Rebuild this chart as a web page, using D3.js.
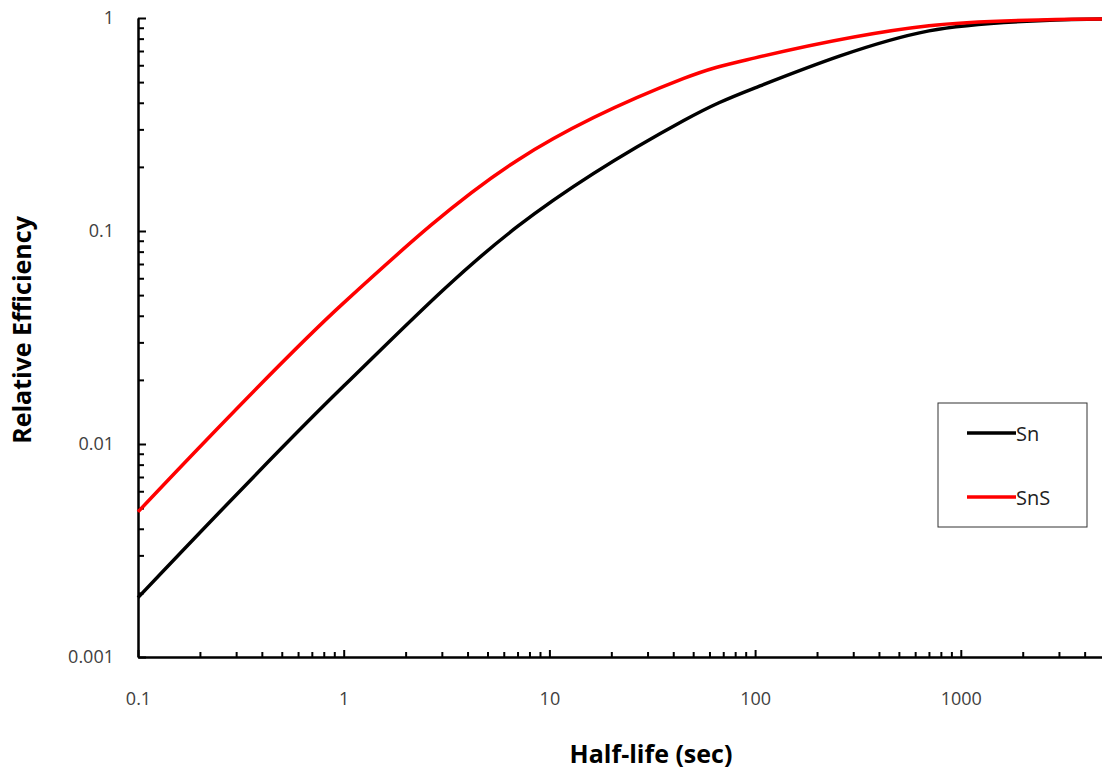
<!DOCTYPE html>
<html>
<head>
<meta charset="utf-8">
<script src="https://cdn.jsdelivr.net/npm/d3@7"></script>
<style>
  body { margin: 0; background: #fff; }
  svg { display: block; font-family: "Open Sans", sans-serif; }
  .axis path, .axis line { stroke: #000; stroke-width: 2px; }
</style>
</head>
<body>
<div id="chart"></div>
<script>
// half-life values (sec) and relative efficiencies
let halfLife = [0.1, 1, 7, 45, 100, 700, 5000];
let snValues = [0.0019, 0.0187, 0.105, 0.33, 0.47, 0.87, 0.99];
let snsValues = [0.0048, 0.046, 0.215, 0.52, 0.65, 0.92, 0.99];

let seriesNames = ["Sn", "SnS"];
let seriesColors = ["#000000", "#ff0000"];

let xMajorTicks = [0.1, 1, 10, 100, 1000];
let yMajorTicks = [0.001, 0.01, 0.1, 1];

let w = 1102, h = 774;
let plotLeft = 138, plotTop = 18, plotBottom = 657;

let xScale = d3.scaleLog()
    .domain([0.1, 5000])
    .range([plotLeft, plotLeft + 205.7 * Math.log10(50000)]);

let yScale = d3.scaleLog()
    .domain([0.001, 1])
    .range([plotBottom, plotTop]);

// minor ticks: 2..9 in every decade
function minorTicks(lo, hi) {
    let out = [];
    for (let d = lo; d < hi; d *= 10) {
        for (let k = 2; k <= 9; k++) out.push(d * k);
    }
    return out;
}
let xMinor = minorTicks(0.1, 10000).filter(function (v) { return v <= 5000; });
let yMinor = minorTicks(0.001, 1);

let svg = d3.select("#chart")
    .append("svg")
    .attr("width", w)
    .attr("height", h);

// x axis, ticks pointing up into the plot
svg.append("g")
    .attr("class", "axis")
    .attr("transform", "translate(0, " + plotBottom + ")")
    .call(d3.axisBottom(xScale).tickValues(xMinor).tickFormat("").tickSizeInner(-5).tickSizeOuter(0));

svg.append("g")
    .attr("class", "axis")
    .attr("transform", "translate(0, " + plotBottom + ")")
    .call(d3.axisBottom(xScale).tickValues(xMajorTicks)
        .tickFormat(function (d) { return d3.format("~g")(d); })
        .tickSizeInner(-7).tickSizeOuter(0).tickPadding(35));

// y axis, ticks pointing right into the plot
svg.append("g")
    .attr("class", "axis")
    .attr("transform", "translate(" + plotLeft + ", 0)")
    .call(d3.axisLeft(yScale).tickValues(yMinor).tickFormat("").tickSizeInner(-6).tickSizeOuter(0));

svg.append("g")
    .attr("class", "axis")
    .attr("transform", "translate(" + plotLeft + ", 0)")
    .call(d3.axisLeft(yScale).tickValues(yMajorTicks)
        .tickFormat(function (d) { return d3.format("~g")(d); })
        .tickSizeInner(-8).tickSizeOuter(0).tickPadding(24));

svg.selectAll(".axis text")
    .style("font-family", "'Open Sans', sans-serif")
    .style("font-size", "18px")
    .style("fill", "#404040");

// axis titles
svg.append("text")
    .attr("x", 651)
    .attr("y", 763)
    .style("text-anchor", "middle")
    .style("font-size", "25px")
    .style("font-weight", "bold")
    .style("fill", "#000")
    .text("Half-life (sec)");

svg.append("text")
    .attr("transform", "translate(31, 330) rotate(-90)")
    .style("text-anchor", "middle")
    .style("font-size", "25px")
    .style("font-weight", "bold")
    .style("fill", "#000")
    .text("Relative Efficiency");

// curves
let allSeries = [snValues, snsValues];

let line = d3.line()
    .x(function (d, i) { return xScale(halfLife[i]); })
    .y(function (d) { return yScale(d); })
    .curve(d3.curveCatmullRom.alpha(0.5));

svg.selectAll(".series")
    .data(allSeries)
    .enter()
    .append("path")
    .attr("class", "series")
    .attr("fill", "none")
    .attr("stroke", function (d, i) { return seriesColors[i]; })
    .attr("stroke-width", 3.5)
    .attr("stroke-linejoin", "round")
    .attr("d", line);

// legend
let legend = svg.append("g").attr("transform", "translate(938, 403)");

legend.append("rect")
    .attr("width", 149)
    .attr("height", 124)
    .attr("fill", "#fff")
    .attr("stroke", "#333")
    .attr("stroke-width", 1);

seriesNames.forEach(function (name, i) {
    let yy = 30 + i * 64;
    legend.append("line")
        .attr("x1", 29).attr("x2", 78)
        .attr("y1", yy).attr("y2", yy)
        .attr("stroke", seriesColors[i])
        .attr("stroke-width", 3.5);
    legend.append("text")
        .attr("x", 78)
        .attr("y", yy + 8)
        .style("font-size", "20px")
        .style("fill", "#222")
        .text(name);
});
</script>
</body>
</html>
